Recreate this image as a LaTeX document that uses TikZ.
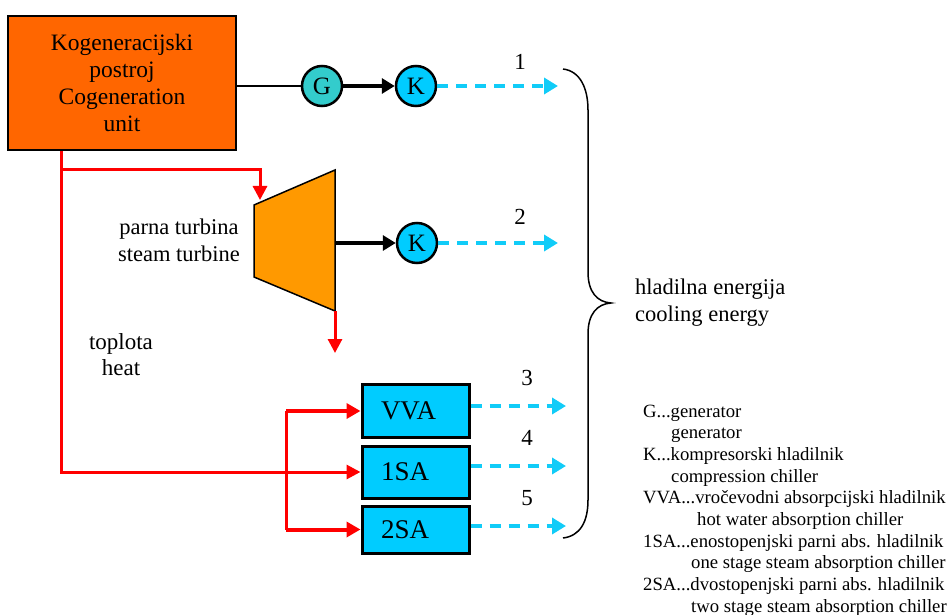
\documentclass[tikz,border=0pt]{standalone}
\usepackage{fontspec}
\setmainfont{Liberation Serif}
\usetikzlibrary{arrows.meta}
\definecolor{cogorange}{HTML}{FF6600}
\definecolor{turborange}{HTML}{FF9900}
\definecolor{gteal}{HTML}{33CCCC}
\definecolor{kcyan}{HTML}{00CCFF}
\definecolor{dashcyan}{HTML}{11CCF8}
\definecolor{heatred}{HTML}{FF0000}
\tikzset{
  cogbox/.style={draw=black, line width=2.5pt, fill=cogorange, minimum width=228pt, minimum height=134pt, align=center, inner sep=0pt, font=\fontsize{23.5}{27}\selectfont},
  machine/.style={circle, draw=black, line width=2.5pt, minimum size=40pt, inner sep=0pt, font=\fontsize{25}{25}\selectfont},
  chiller/.style={draw=black, line width=3pt, fill=kcyan, minimum width=107pt, text width=69pt, inner xsep=19pt, inner ysep=0pt, align=left, font=\fontsize{27}{27}\selectfont},
  shaftarrow/.style={line width=4pt, -{Triangle[length=13pt,width=15pt]}},
  coldarrow/.style={dashcyan, line width=4pt, dash pattern=on 11pt off 8pt, -{Triangle[length=14pt,width=16pt]}},
  heatline/.style={heatred, line width=3pt},
  heatarrow/.style={heatred, line width=3pt, -{Triangle[length=14pt,width=14pt]}},
  brancharrow/.style={heatred, line width=4pt, -{Triangle[length=14pt,width=15pt]}},
  lbl/.style={font=\fontsize{22.5}{27}\selectfont, align=center, inner sep=0pt},
  numlbl/.style={font=\fontsize{23}{23}\selectfont, inner sep=0pt},
  legtext/.style={font=\fontsize{18.7}{21.7}\selectfont, inner sep=0pt, anchor=base west}
}
\begin{document}
\begin{tikzpicture}[x=1pt,y=-1pt]
\useasboundingbox (0,0) rectangle (951,615);
% cogeneration unit
\node[cogbox] (cog) at (122,83) {Kogeneracijski\\postroj\\Cogeneration\\unit};
% generator and compressor 1
\node[machine, fill=gteal] (g) at (322,86) {G};
\node[machine, fill=kcyan] (k1) at (416,86) {K};
\draw[line width=2pt] (cog.east |- g.west) -- (g.west);
\draw[shaftarrow] (g.east) -- (k1.west);
\coordinate (e1) at (558,86);
\draw[coldarrow] (k1.east) -- (e1);
\node[numlbl] (n1) at (520,62) {1};
% steam turbine
\coordinate (tl1) at (254,205);
\coordinate (tr1) at (335,170);
\coordinate (tr2) at (335,311);
\coordinate (tl2) at (254,277);
\draw[fill=turborange, line width=1.5pt, line join=miter] (tl1) -- (tr1) -- (tr2) -- (tl2) -- cycle;
\node[lbl] (turblbl) at (179,240) {parna turbina\\steam turbine};
\node[machine, fill=kcyan] (k2) at (417,243) {K};
\coordinate (tout) at (335,243);
\draw[shaftarrow] (tout) -- (k2.west);
\coordinate (e2) at (558,243);
\draw[coldarrow] (k2.east) -- (e2);
\node[numlbl] (n2) at (520,217) {2};
% turbine exhaust
\coordinate (texh) at (335,353);
\draw[heatarrow] (tr2) -- (texh);
% absorption chillers
\node[chiller, minimum height=53pt] (vva) at (415.5,411) {VVA};
\node[chiller, minimum height=52pt] (sa1) at (415.5,472) {1SA};
\node[chiller, minimum height=47pt] (sa2) at (415.5,529.5) {2SA};
\coordinate (e3) at (566,406);
\coordinate (e4) at (566,466);
\coordinate (e5) at (566,526);
\draw[coldarrow] (vva.east |- e3) -- (e3);
\draw[coldarrow] (sa1.east |- e4) -- (e4);
\draw[coldarrow] (sa2.east |- e5) -- (e5);
\node[numlbl] (n3) at (527,378) {3};
\node[numlbl] (n4) at (527,438) {4};
\node[numlbl] (n5) at (527,498) {5};
% heat lines
\coordinate (cogout) at ([xshift=55pt]cog.south west);
\coordinate (split) at (63,170);
\coordinate (tin) at (260,200);
\draw[heatarrow] (split) -| (tin);
\draw[heatarrow] (cogout) |- (sa1.west);
\coordinate (bx) at (286,472);
\draw[heatline] (vva.west -| bx) -- (sa2.west -| bx);
\draw[brancharrow] (vva.west -| bx) -- (vva.west);
\draw[brancharrow] (sa2.west -| bx) -- (sa2.west);
\node[lbl, font=\fontsize{23}{26}\selectfont] (heatlbl) at (121,355) {toplota\\heat};
% brace
\coordinate (bt) at (563,69);
\coordinate (bb) at (563,538);
\coordinate (btip) at (611,303);
\draw[line width=1.5pt] (bt) .. controls (580,71) and (588,88) .. (588,110)
  -- (588,272) .. controls (588,292) and (597,302) .. (btip)
  .. controls (597,304) and (588,314) .. (588,334)
  -- (588,500) .. controls (588,522) and (580,536) .. (bb);
\node[lbl, align=left, anchor=west] (cool) at (635,303) {hladilna energija\\cooling energy};
% legend
\node[legtext] (l1) at (643,417) {G...generator};
\node[legtext] (l2) at (671,438.7) {generator};
\node[legtext] (l3) at (643,460.4) {K...kompresorski hladilnik};
\node[legtext] (l4) at (671,482.1) {compression chiller};
\node[legtext] (l5) at (643,503.8) {VVA...vročevodni absorpcijski hladilnik};
\node[legtext] (l6) at (697,525.5) {hot water absorption chiller};
\node[legtext] (l7) at (643,547.2) {1SA...enostopenjski parni abs. hladilnik};
\node[legtext] (l8) at (691,568.9) {one stage steam absorption chiller};
\node[legtext] (l9) at (643,590.6) {2SA...dvostopenjski parni abs. hladilnik};
\node[legtext] (l10) at (691,612.3) {two stage steam absorption chiller};
\end{tikzpicture}
\end{document}
